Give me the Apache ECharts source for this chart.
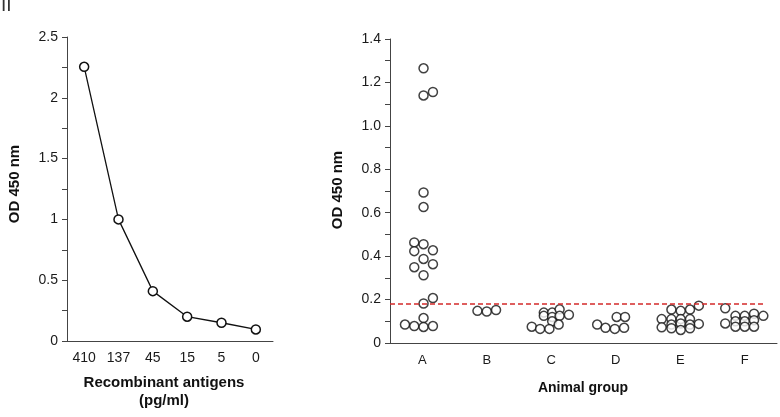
<!DOCTYPE html>
<html>
<head>
<meta charset="utf-8">
<script src="https://cdn.jsdelivr.net/npm/echarts@6/dist/echarts.min.js"></script>
<style>html,body{margin:0;padding:0;background:#fff}#c{width:780px;height:417px}</style>
</head>
<body>
<div id="c"></div>
<script>
// Left panel: standard curve
var concLabels = ['410', '137', '45', '15', '5', '0'];
var concOD = [2.255, 1.0, 0.41, 0.2, 0.15, 0.095];
var leftYTicks = [0, 0.5, 1, 1.5, 2, 2.5];

// Right panel: dot plot by animal group
var groups = ['A', 'B', 'C', 'D', 'E', 'F'];
var valuesA = [1.265, 1.14, 1.156, 0.693, 0.626, 0.463, 0.455, 0.423, 0.427, 0.387, 0.349, 0.363, 0.312, 0.207, 0.182, 0.115, 0.085, 0.078, 0.074, 0.078];
var colsA   = [0.14, 0.14, 1.15, 0.14, 0.14, -0.86, 0.14, -0.86, 1.15, 0.14, -0.86, 1.15, 0.14, 1.15, 0.14, 0.14, -1.86, -0.86, 0.14, 1.15];
var valuesB = [0.148, 0.145, 0.152];
var colsB   = [-1, 0, 1];
var valuesC = [0.14, 0.125, 0.14, 0.12, 0.1, 0.155, 0.125, 0.085, 0.13, 0.075, 0.065, 0.065];
var colsC   = [-0.8, -0.8, 0.1, 0.1, 0.1, 0.9, 0.9, 0.8, 1.9, -2.1, -1.2, -0.2];
var valuesD = [0.085, 0.07, 0.065, 0.07, 0.12, 0.12];
var colsD   = [-2, -1.1, -0.1, 0.9, 0.1, 1.0];
var valuesE = [0.154, 0.148, 0.154, 0.172, 0.11, 0.11, 0.11, 0.11, 0.088, 0.072, 0.085, 0.09, 0.085, 0.068, 0.06, 0.068];
var colsE   = [-0.95, 0.05, 1.05, 2.0, -2, -0.95, 0.05, 1.05, 2.0, -2, -0.95, 0.05, 1.05, -0.95, 0.05, 1.05];
var valuesF = [0.16, 0.09, 0.125, 0.1, 0.075, 0.125, 0.1, 0.075, 0.135, 0.105, 0.075, 0.125];
var colsF   = [-2.1, -2.1, -1, -1, -1, 0, 0, 0, 1, 1, 1, 2];
var cutoff = 0.182;
var rightYTicks = [0, 0.2, 0.4, 0.6, 0.8, 1.0, 1.2, 1.4];

var groupValues = [valuesA, valuesB, valuesC, valuesD, valuesE, valuesF];
var groupCols = [colsA, colsB, colsC, colsD, colsE, colsF];
var colWidth = 0.144;

var dots = [];
groupValues.forEach(function (vals, g) {
  vals.forEach(function (v, i) {
    dots.push([g + 0.5 + groupCols[g][i] * colWidth, v]);
  });
});

var FONT = '"Liberation Sans", Arial, sans-serif';
var axisCol = '#444';
var txtCol = '#1a1a1a';

var chart = echarts.init(document.getElementById('c'), null, {renderer: 'canvas'});
chart.setOption({
  backgroundColor: '#fff',
  animation: false,
  textStyle: {fontFamily: FONT},
  grid: [
    {left: 67, top: 37, width: 206, height: 304},
    {left: 390, top: 39, width: 387, height: 304}
  ],
  xAxis: [
    {
      gridIndex: 0, type: 'category', data: concLabels, boundaryGap: true,
      axisLine: {lineStyle: {color: axisCol, width: 1}},
      axisTick: {alignWithLabel: true, length: 5, lineStyle: {color: axisCol}},
      axisLabel: {color: txtCol, fontSize: 14, fontFamily: FONT, margin: 10}
    },
    {
      gridIndex: 1, type: 'category', data: groups, boundaryGap: true,
      axisLine: {lineStyle: {color: axisCol, width: 1}},
      axisTick: {length: 5, lineStyle: {color: axisCol}},
      axisLabel: {color: txtCol, fontSize: 13, fontFamily: FONT, margin: 11}
    },
    {
      gridIndex: 1, type: 'value', min: 0, max: groups.length, show: false
    }
  ],
  yAxis: [
    {
      gridIndex: 0, type: 'value', min: 0, max: 2.5, interval: 0.25,
      splitLine: {show: false},
      axisLine: {show: true, lineStyle: {color: axisCol, width: 1}},
      axisTick: {show: true, length: 5, lineStyle: {color: axisCol}},
      axisLabel: {
        color: txtCol, fontSize: 14, fontFamily: FONT, margin: 9,
        formatter: function (v) {
          for (var i = 0; i < leftYTicks.length; i++) {
            if (Math.abs(leftYTicks[i] - v) < 1e-6) return String(leftYTicks[i]);
          }
          return '';
        }
      }
    },
    {
      gridIndex: 1, type: 'value', min: 0, max: 1.4, interval: 0.1,
      splitLine: {show: false},
      axisLine: {show: true, lineStyle: {color: axisCol, width: 1}},
      axisTick: {show: true, length: 5, lineStyle: {color: axisCol}},
      axisLabel: {
        color: txtCol, fontSize: 14, fontFamily: FONT, margin: 9,
        formatter: function (v) {
          for (var i = 0; i < rightYTicks.length; i++) {
            if (Math.abs(rightYTicks[i] - v) < 1e-6) return rightYTicks[i] === 0 ? '0' : rightYTicks[i].toFixed(1);
          }
          return '';
        }
      }
    }
  ],
  series: [
    {
      type: 'line', xAxisIndex: 0, yAxisIndex: 0, data: concOD,
      symbol: 'circle', symbolSize: 9, showAllSymbol: true,
      lineStyle: {color: '#111', width: 1.3},
      itemStyle: {color: '#fff', borderColor: '#111', borderWidth: 1.5}
    },
    {
      type: 'scatter', xAxisIndex: 2, yAxisIndex: 1, data: dots,
      symbol: 'circle', symbolSize: 9,
      itemStyle: {color: '#fff', borderColor: '#111', borderWidth: 1.5},
      markLine: {
        silent: true, symbol: ['none', 'none'], label: {show: false},
        lineStyle: {color: '#d42a2a', type: [5, 3], width: 1.5},
        data: [[{coord: [0, cutoff]}, {coord: [5.83, cutoff]}]]
      },
      z: 3
    }
  ],
  graphic: [
    {type: 'text', left: 1, top: -4, style: {text: 'II', fill: '#333', font: '19px ' + FONT}},
    {type: 'text', x: 15, y: 184, rotation: Math.PI / 2,
      style: {text: 'OD 450 nm', fill: '#111', font: 'bold 15px ' + FONT, textAlign: 'center', textVerticalAlign: 'middle'}},
    {type: 'text', x: 338, y: 190, rotation: Math.PI / 2,
      style: {text: 'OD 450 nm', fill: '#111', font: 'bold 15px ' + FONT, textAlign: 'center', textVerticalAlign: 'middle'}},
    {type: 'text', x: 164, y: 383,
      style: {text: 'Recombinant antigens', fill: '#111', font: 'bold 15px ' + FONT, textAlign: 'center', textVerticalAlign: 'middle'}},
    {type: 'text', x: 164, y: 401,
      style: {text: '(pg/ml)', fill: '#111', font: 'bold 15px ' + FONT, textAlign: 'center', textVerticalAlign: 'middle'}},
    {type: 'text', x: 583, y: 388,
      style: {text: 'Animal group', fill: '#111', font: 'bold 14px ' + FONT, textAlign: 'center', textVerticalAlign: 'middle'}}
  ]
});
</script>
</body>
</html>
